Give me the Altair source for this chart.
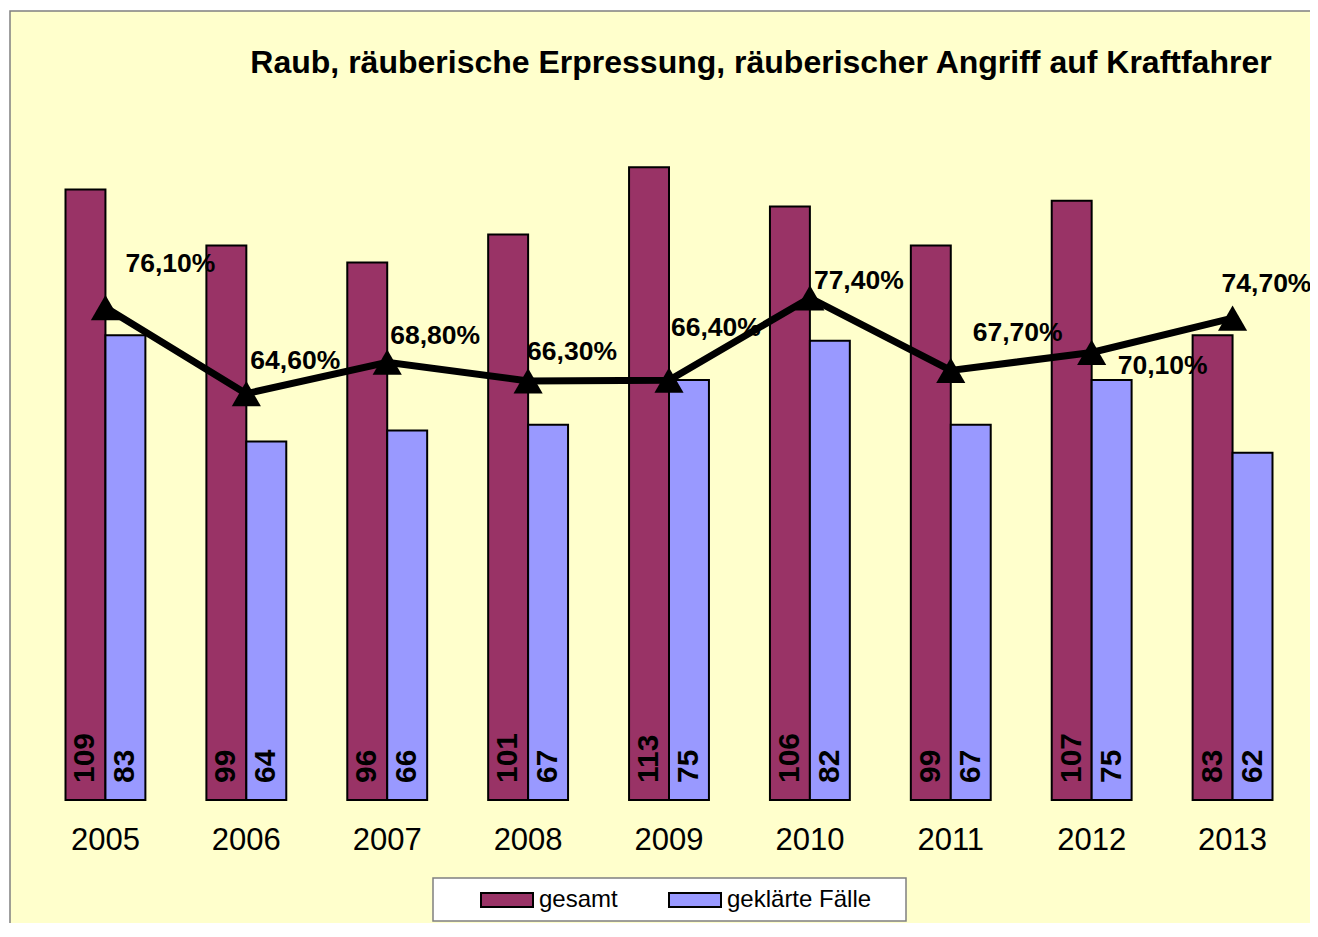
import altair as alt
import pandas as pd

# ---------------- data ----------------
years = ["2005", "2006", "2007", "2008", "2009", "2010", "2011", "2012", "2013"]
gesamt = [109, 99, 96, 101, 113, 106, 99, 107, 83]
geklaert = [83, 64, 66, 67, 75, 82, 67, 75, 62]
quote = [76.1, 64.6, 68.8, 66.3, 66.4, 77.4, 67.7, 70.1, 74.7]
series = ["gesamt", "geklärte Fälle"]
colors = ["#993366", "#9999FF"]
title_text = "Raub, räuberische Erpressung, räuberischer Angriff auf Kraftfahrer"

# ---------------- layout (label nudges, pixels) ----------------
label_nudge = {
    "2005": (20, -44), "2006": (4, -33), "2007": (3, -26),
    "2008": (-1, -29), "2009": (2, -52), "2010": (4, -17),
    "2011": (22, -37), "2012": (26, 14), "2013": (-11, -34),
}

FONT = "Liberation Sans, Arial, Helvetica, sans-serif"
W, H = 1268, 672
PAD = {"left": 27, "top": 120, "right": 7, "bottom": 123}

bars_df = pd.DataFrame(
    [{"year": y, "series": series[0], "value": g} for y, g in zip(years, gesamt)]
    + [{"year": y, "series": series[1], "value": k} for y, k in zip(years, geklaert)]
)
pct_df = pd.DataFrame({
    "year": years,
    "quote": quote,
    "label": [f"{q:.2f}".replace(".", ",") + "%" for q in quote],
})
one = pd.DataFrame({"title": [title_text]})

x_enc = alt.X(
    "year:N", sort=years,
    scale=alt.Scale(paddingInner=0.433, paddingOuter=0.2165),
    axis=alt.Axis(title=None, labelFontSize=31, labelFont=FONT, labelColor="black",
                  labelAngle=0, ticks=False, tickSize=0, domain=False, grid=False,
                  labelPadding=25, zindex=2),
)
y_cnt = alt.Scale(domain=[0, 120], nice=False, zero=True)
y_pct = alt.Scale(domain=[10.3, 100.1], nice=False, zero=False)

frame = alt.Chart(one).mark_rect(fill="#FFFFCC", stroke="#808080", strokeWidth=1.5).encode(
    x=alt.value(-25), x2=alt.value(1320), y=alt.value(-117), y2=alt.value(830)
)
legend_box = alt.Chart(one).mark_rect(fill="white", stroke="#808080", strokeWidth=1.5).encode(
    x=alt.value(398), x2=alt.value(871), y=alt.value(750), y2=alt.value(793)
)
title = alt.Chart(one).mark_text(
    align="center", baseline="alphabetic",
    font=FONT, fontSize=32, fontWeight="bold", color="black",
).encode(x=alt.value(726), y=alt.value(-55), text="title:N")

bars = alt.Chart(bars_df).mark_bar(stroke="black", strokeWidth=2, opacity=1).encode(
    x=x_enc,
    xOffset=alt.XOffset("series:N", sort=series, scale=alt.Scale(paddingInner=0, paddingOuter=0)),
    y=alt.Y("value:Q", scale=y_cnt, axis=None),
    color=alt.Color(
        "series:N", sort=series,
        scale=alt.Scale(domain=series, range=colors),
        legend=alt.Legend(
            title=None, orient="none", direction="horizontal",
            legendX=445, legendY=745, padding=0, zindex=2,
            symbolType="M-1,-0.27H1V0.27H-1Z", symbolSize=2704,
            symbolStrokeColor="black", symbolStrokeWidth=2, symbolOpacity=1,
            labelFont=FONT, labelFontSize=24, labelColor="black",
            labelOffset=5, columnPadding=47,
        ),
    ),
)

bar_labels = alt.Chart(bars_df).mark_text(
    angle=270, align="left", baseline="middle", dx=17,
    font=FONT, fontSize=30, fontWeight="bold", color="black",
).encode(
    x=x_enc,
    xOffset=alt.XOffset("series:N", sort=series, scale=alt.Scale(paddingInner=0, paddingOuter=0)),
    y=alt.Y(datum=0, scale=y_cnt, axis=None),
    text="value:Q",
)

line = alt.Chart(pct_df).mark_line(color="black", strokeWidth=7).encode(
    x=x_enc, y=alt.Y("quote:Q", scale=y_pct, axis=None)
)
points = alt.Chart(pct_df).mark_point(
    shape="triangle-up", size=850, filled=True, color="black", opacity=1
).encode(x=x_enc, y=alt.Y("quote:Q", scale=y_pct, axis=None))

pct_layers = []
for yr in years:
    dx, dy = label_nudge[yr]
    pct_layers.append(
        alt.Chart(pct_df).transform_filter(alt.datum.year == yr).mark_text(
            align="left", baseline="middle", dx=dx, dy=dy,
            font=FONT, fontSize=26.5, fontWeight="bold", color="black",
        ).encode(x=x_enc, y=alt.Y("quote:Q", scale=y_pct, axis=None), text="label:N")
    )

chart = alt.layer(
    frame, legend_box, title, bars, bar_labels, line, points, *pct_layers
).resolve_scale(y="independent").properties(
    width=W, height=H,
    autosize=alt.AutoSizeParams(type="none"),
    padding=PAD,
).configure(background="white").configure_view(stroke=None)

chart.save("out.html", embed_options={"renderer": "svg", "actions": False})
